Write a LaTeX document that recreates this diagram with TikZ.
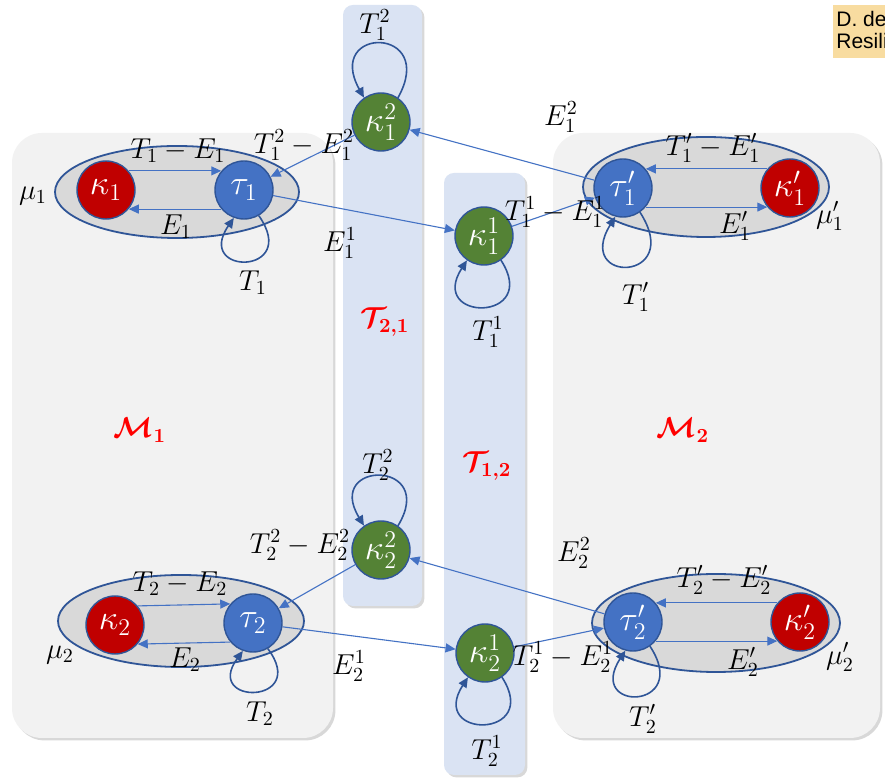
\documentclass[tikz,border=0pt]{standalone}
\usepackage{amsmath}
\usepackage{amssymb}
\usepackage{fontspec}
\newfontfamily\notefont{Liberation Sans}
\usepackage{tikz}
\usepackage{xcolor}
\usetikzlibrary{arrows.meta,shadows}

\definecolor{panelgray}{HTML}{F2F2F2}
\definecolor{colblue}{HTML}{DAE3F3}
\definecolor{ringgray}{HTML}{D9D9D9}
\definecolor{edgeblue}{HTML}{2F5597}
\definecolor{linkblue}{HTML}{4472C4}
\definecolor{kapred}{HTML}{C00000}
\definecolor{kapgreen}{HTML}{548235}
\definecolor{notebg}{HTML}{F8DCA0}

\begin{document}
\begin{tikzpicture}[x=0.5pt,y=-0.5pt,
	panel/.style={fill=panelgray, rounded corners=15pt, drop shadow={shadow xshift=1.2pt, shadow yshift=-1.2pt, opacity=0.3}},
	column/.style={fill=colblue, rounded corners=5pt, drop shadow={shadow xshift=1.2pt, shadow yshift=-1.2pt, opacity=0.3}},
	group/.style={draw=edgeblue, fill=ringgray, line width=0.9pt},
	state/.style={circle, draw=edgeblue, line width=0.7pt, minimum size=29pt, inner sep=0pt, text=white, font=\LARGE},
	taunode/.style={state, fill=linkblue},
	kapnode/.style={state, fill=kapred},
	hubnode/.style={state, fill=kapgreen},
	link/.style={draw=linkblue, line width=0.55pt, -{Triangle[length=5pt,width=4.5pt]}},
	selfloop/.style={draw=edgeblue, line width=0.8pt, -{Triangle[length=5pt,width=4.5pt]}},
	lbl/.style={font=\Large, inner sep=1pt},
	title/.style={text=red, font=\Large}]
					\useasboundingbox (0,0) rectangle (885,779);
					\fill[white] (0,0) rectangle (885,779);
					
					\path[panel] (12,133) rectangle (333,738);
					\path[panel] (553,133) rectangle (880,738);
					\path[column] (343,5) rectangle (422,606);
					\path[column] (444,173) rectangle (525,775);
					\fill[notebg] (833,5) rectangle (885,58);
					\node[anchor=north west, align=left, inner sep=0pt, font=\notefont\fontsize{10.5}{11}\selectfont] (note) at (836,11) {D. de\\Resili};
					
					\draw[group] (177,192) ellipse [x radius=61pt, y radius=23pt];
					\draw[group] (706,187) ellipse [x radius=61.5pt, y radius=25pt];
					\draw[group] (181,621) ellipse [x radius=61.5pt, y radius=23pt];
					\draw[group] (716,623) ellipse [x radius=62pt, y radius=24.5pt];
					
					\node[kapnode] (k1) at (106,190) {$\kappa_1$};
					\node[taunode] (t1) at (244,190) {$\tau_1$};
					\node[hubnode] (h12) at (381,122) {$\kappa_1^2$};
					\node[hubnode] (h11) at (484,236) {$\kappa_1^1$};
					\node[taunode] (t1p) at (623,188) {$\tau_1'$};
					\node[kapnode] (k1p) at (790,188) {$\kappa_1'$};
					\node[kapnode] (k2) at (115,625) {$\kappa_2$};
					\node[taunode] (t2) at (253,623) {$\tau_2$};
					\node[hubnode] (h22) at (381,550) {$\kappa_2^2$};
					\node[hubnode] (h21) at (485,653) {$\kappa_2^1$};
					\node[taunode] (t2p) at (633,622) {$\tau_2'$};
					\node[kapnode] (k2p) at (800,622) {$\kappa_2'$};
					
					\draw[link] (k1.40) -- (t1.140);
					\draw[link] (t1.-140) -- (k1.-40);
					\draw[link] (k1p.140) -- (t1p.40);
					\draw[link] (t1p.-40) -- (k1p.-140);
					\draw[link] (k2.40) -- (t2.140);
					\draw[link] (t2.-140) -- (k2.-40);
					\draw[link] (k2p.140) -- (t2p.40);
					\draw[link] (t2p.-40) -- (k2p.-140);
					
					\draw[link] (h12) -- (t1);
					\draw[link] (t1) -- (h11);
					\draw[link] (t1p) -- (h12);
					\draw[link] (h11) -- (t1p);
					\draw[link] (h22) -- (t2);
					\draw[link] (t2) -- (h21);
					\draw[link] (t2p) -- (h22);
					\draw[link] (h21) -- (t2p);
					
					\draw[selfloop] (t1.-60) .. controls +(42,60) and +(-40,58) .. (t1.-110);
					\draw[selfloop] (t1p.-55) .. controls +(45,70) and +(-42,68) .. (t1p.-105);
					\draw[selfloop] (t2.-60) .. controls +(42,56) and +(-40,55) .. (t2.-110);
					\draw[selfloop] (t2p.-55) .. controls +(42,64) and +(-40,62) .. (t2p.-105);
					\draw[selfloop] (h12.55) .. controls +(40,-72) and +(-40,-72) .. (h12.125);
					\draw[selfloop] (h22.55) .. controls +(40,-66) and +(-40,-66) .. (h22.125);
					\draw[selfloop] (h11.-55) .. controls +(40,62) and +(-40,62) .. (h11.-125);
					\draw[selfloop] (h21.-55) .. controls +(40,62) and +(-40,62) .. (h21.-125);
					
					\node[lbl] (lt12) at (375,25) {$T_1^2$};
					\node[lbl] (lte12) at (304,145) {$T_1^2 - E_1^2$};
					\node[lbl] (lte1) at (178,151) {$T_1 - E_1$};
					\node[lbl] (le1) at (176,227) {$E_1$};
					\node[lbl] (lmu1) at (33,196) {$\mu_1$};
					\node[lbl] (lt1) at (253,283) {$T_1$};
					\node[lbl] (le11) at (340,243) {$E_1^1$};
					\node[lbl] (le12) at (561,117) {$E_1^2$};
					\node[lbl] (lte1p) at (713,148) {$T_1' - E_1'$};
					\node[lbl] (lte11) at (555,212) {$T_1^1 - E_1^1$};
					\node[lbl] (le1p) at (735,226) {$E_1'$};
					\node[lbl] (lmu1p) at (830,216) {$\mu_1'$};
					\node[lbl] (lt1p) at (636,297) {$T_1'$};
					\node[lbl] (lt11) at (488,332) {$T_1^1$};
					\node[lbl] (lt22) at (378,465) {$T_2^2$};
					\node[lbl] (lte22) at (300,545) {$T_2^2 - E_2^2$};
					\node[lbl] (le22) at (574,553) {$E_2^2$};
					\node[lbl] (lte2) at (180,584) {$T_2 - E_2$};
					\node[lbl] (lte2p) at (724,580) {$T_2' - E_2'$};
					\node[lbl] (lmu2) at (60,655) {$\mu_2$};
					\node[lbl] (le2) at (185,660) {$E_2$};
					\node[lbl] (le21) at (349,666) {$E_2^1$};
					\node[lbl] (lte21) at (563,657) {$T_2^1 - E_2^1$};
					\node[lbl] (le2p) at (743,662) {$E_2'$};
					\node[lbl] (lmu2p) at (840,657) {$\mu_2'$};
					\node[lbl] (lt2) at (260,714) {$T_2$};
					\node[lbl] (lt2p) at (643,719) {$T_2'$};
					\node[lbl] (lt21) at (487,751) {$T_2^1$};
					
					\node[title] (m1) at (140,430) {$\boldsymbol{\mathcal{M}_1}$};
					\node[title] (m2) at (683,430) {$\boldsymbol{\mathcal{M}_2}$};
					\node[title] (c21) at (385,322) {$\boldsymbol{\mathcal{T}_{2,1}}$};
					\node[title] (c12) at (487,466) {$\boldsymbol{\mathcal{T}_{1,2}}$};
				\end{tikzpicture}
\end{document}
